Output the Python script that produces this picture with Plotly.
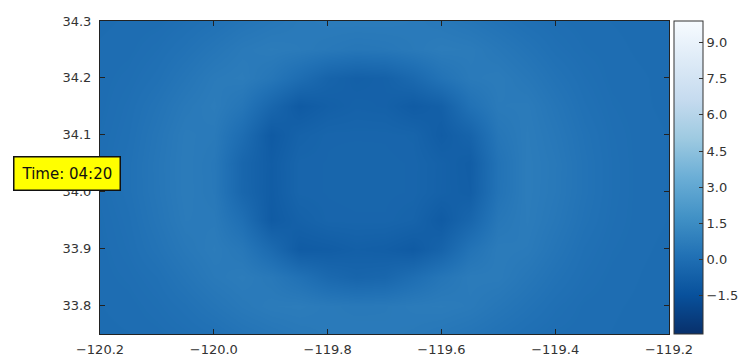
import plotly.graph_objects as go

# Grid coordinates (degrees)
lon = [-120.20, -120.15, -120.10, -120.05, -120.00, -119.95, -119.90, -119.85, -119.80, -119.75,
       -119.70, -119.65, -119.60, -119.55, -119.50, -119.45, -119.40, -119.35, -119.30, -119.25, -119.20]
lat = [33.75, 33.80, 33.85, 33.90, 33.95, 34.00, 34.05, 34.10, 34.15, 34.20, 34.25, 34.30]

# Wave height values (rows = lat, cols = lon)
row_3375 = [-0.09, -0.08, -0.05, 0.03, 0.12, 0.28, 0.40, 0.51, 0.59, 0.62, 0.60, 0.55, 0.45, 0.33, 0.19, 0.06, -0.03, -0.06, -0.08, -0.10, -0.10]
row_3380 = [-0.08, -0.06, 0.03, 0.16, 0.35, 0.53, 0.66, 0.69, 0.59, 0.54, 0.56, 0.64, 0.68, 0.60, 0.42, 0.24, 0.07, -0.04, -0.07, -0.09, -0.10]
row_3385 = [-0.06, 0.00, 0.12, 0.34, 0.57, 0.69, 0.51, 0.16, -0.26, -0.46, -0.37, -0.01, 0.37, 0.65, 0.65, 0.43, 0.21, 0.04, -0.05, -0.08, -0.10]
row_3390 = [-0.05, 0.06, 0.26, 0.50, 0.68, 0.46, -0.19, -0.93, -0.87, -0.73, -0.79, -0.97, -0.54, 0.24, 0.66, 0.61, 0.35, 0.11, -0.01, -0.07, -0.09]
row_3395 = [-0.03, 0.10, 0.35, 0.62, 0.60, 0.04, -0.95, -0.64, -0.45, -0.44, -0.44, -0.54, -0.95, -0.40, 0.45, 0.68, 0.46, 0.20, 0.03, -0.06, -0.08]
row_3400 = [0.00, 0.15, 0.40, 0.66, 0.51, -0.37, -0.89, -0.45, -0.43, -0.42, -0.42, -0.44, -0.64, -0.79, 0.25, 0.70, 0.52, 0.25, 0.05, -0.06, -0.08]
row_3405 = [0.00, 0.15, 0.41, 0.66, 0.50, -0.40, -0.87, -0.45, -0.43, -0.41, -0.42, -0.44, -0.63, -0.83, 0.23, 0.70, 0.53, 0.25, 0.05, -0.06, -0.08]
row_3410 = [-0.02, 0.11, 0.37, 0.64, 0.58, -0.07, -0.99, -0.59, -0.44, -0.44, -0.44, -0.48, -0.87, -0.52, 0.40, 0.68, 0.47, 0.21, 0.03, -0.06, -0.08]
row_3415 = [-0.05, 0.07, 0.28, 0.53, 0.69, 0.37, -0.38, -0.98, -0.73, -0.61, -0.65, -0.92, -0.71, 0.15, 0.61, 0.64, 0.38, 0.13, -0.01, -0.07, -0.09]
row_3420 = [-0.06, 0.01, 0.15, 0.37, 0.61, 0.69, 0.40, -0.05, -0.52, -0.71, -0.63, -0.27, 0.24, 0.59, 0.66, 0.47, 0.24, 0.06, -0.05, -0.07, -0.10]
row_3425 = [-0.07, -0.05, 0.05, 0.20, 0.39, 0.58, 0.68, 0.62, 0.51, 0.42, 0.46, 0.57, 0.70, 0.65, 0.47, 0.28, 0.09, -0.02, -0.06, -0.09, -0.10]
row_3430 = [-0.09, -0.07, -0.05, 0.05, 0.17, 0.33, 0.46, 0.58, 0.65, 0.66, 0.66, 0.61, 0.51, 0.38, 0.23, 0.08, -0.01, -0.06, -0.08, -0.10, -0.10]

z_rows = [row_3375, row_3380, row_3385, row_3390, row_3395, row_3400,
          row_3405, row_3410, row_3415, row_3420, row_3425, row_3430]

z_min, z_max = -3.1, 9.9

x_ticks = [-120.2, -120.0, -119.8, -119.6, -119.4, -119.2]
x_labels = ["\u2212120.2", "\u2212120.0", "\u2212119.8", "\u2212119.6", "\u2212119.4", "\u2212119.2"]
y_ticks = [33.8, 33.9, 34.0, 34.1, 34.2, 34.3]
y_labels = ["33.8", "33.9", "34.0", "34.1", "34.2", "34.3"]
cb_ticks = [-1.5, 0.0, 1.5, 3.0, 4.5, 6.0, 7.5, 9.0]
cb_labels = ["\u22121.5", "0.0", "1.5", "3.0", "4.5", "6.0", "7.5", "9.0"]

time_label = "Time: 04:20"

blues_r = [
    [0.0, "rgb(8,48,107)"],
    [0.125, "rgb(8,81,156)"],
    [0.25, "rgb(33,113,181)"],
    [0.375, "rgb(66,146,198)"],
    [0.5, "rgb(107,174,214)"],
    [0.625, "rgb(158,202,225)"],
    [0.75, "rgb(198,219,239)"],
    [0.875, "rgb(222,235,247)"],
    [1.0, "rgb(247,251,255)"],
]

font_family = "DejaVu Sans"
text_color = "#333333"

fig = go.Figure(
    go.Heatmap(
        x=lon, y=lat, z=z_rows,
        zmin=z_min, zmax=z_max,
        colorscale=blues_r,
        zsmooth="best",
        colorbar=dict(
            x=1.0088, xanchor="left", xpad=0,
            y=0.5, yanchor="middle", ypad=0,
            len=1.0, lenmode="fraction",
            thickness=29,
            outlinecolor="#333333", outlinewidth=1,
            tickvals=cb_ticks, ticktext=cb_labels,
            ticks="inside", ticklen=4, tickcolor="#333333",
            tickfont=dict(family=font_family, size=13, color=text_color),
        ),
    )
)

fig.update_xaxes(
    range=[-120.2, -119.2],
    tickvals=x_ticks, ticktext=x_labels,
    ticks="inside", ticklen=5, tickcolor="#222222",
    showline=True, linecolor="#222222", linewidth=1, mirror="ticks",
    showgrid=False, zeroline=False,
    ticklabelstandoff=3,
    tickfont=dict(family=font_family, size=13, color=text_color),
)
fig.update_yaxes(
    range=[33.75, 34.3],
    tickvals=y_ticks, ticktext=y_labels,
    ticks="inside", ticklen=5, tickcolor="#222222",
    showline=True, linecolor="#222222", linewidth=1, mirror="ticks",
    showgrid=False, zeroline=False,
    ticklabelstandoff=5,
    tickfont=dict(family=font_family, size=13, color=text_color),
)

fig.add_annotation(
    text=time_label,
    xref="paper", yref="paper",
    x=-0.058, y=0.514,
    xanchor="center", yanchor="middle",
    showarrow=False,
    font=dict(family=font_family, size=15, color="#111111"),
    bgcolor="#ffff00",
    bordercolor="#111111", borderwidth=1.5, borderpad=7,
)

fig.update_layout(
    width=746, height=359,
    margin=dict(l=100, r=77, t=21, b=25, autoexpand=False),
    paper_bgcolor="white", plot_bgcolor="white",
    showlegend=False,
)

fig.write_html("out.html")
